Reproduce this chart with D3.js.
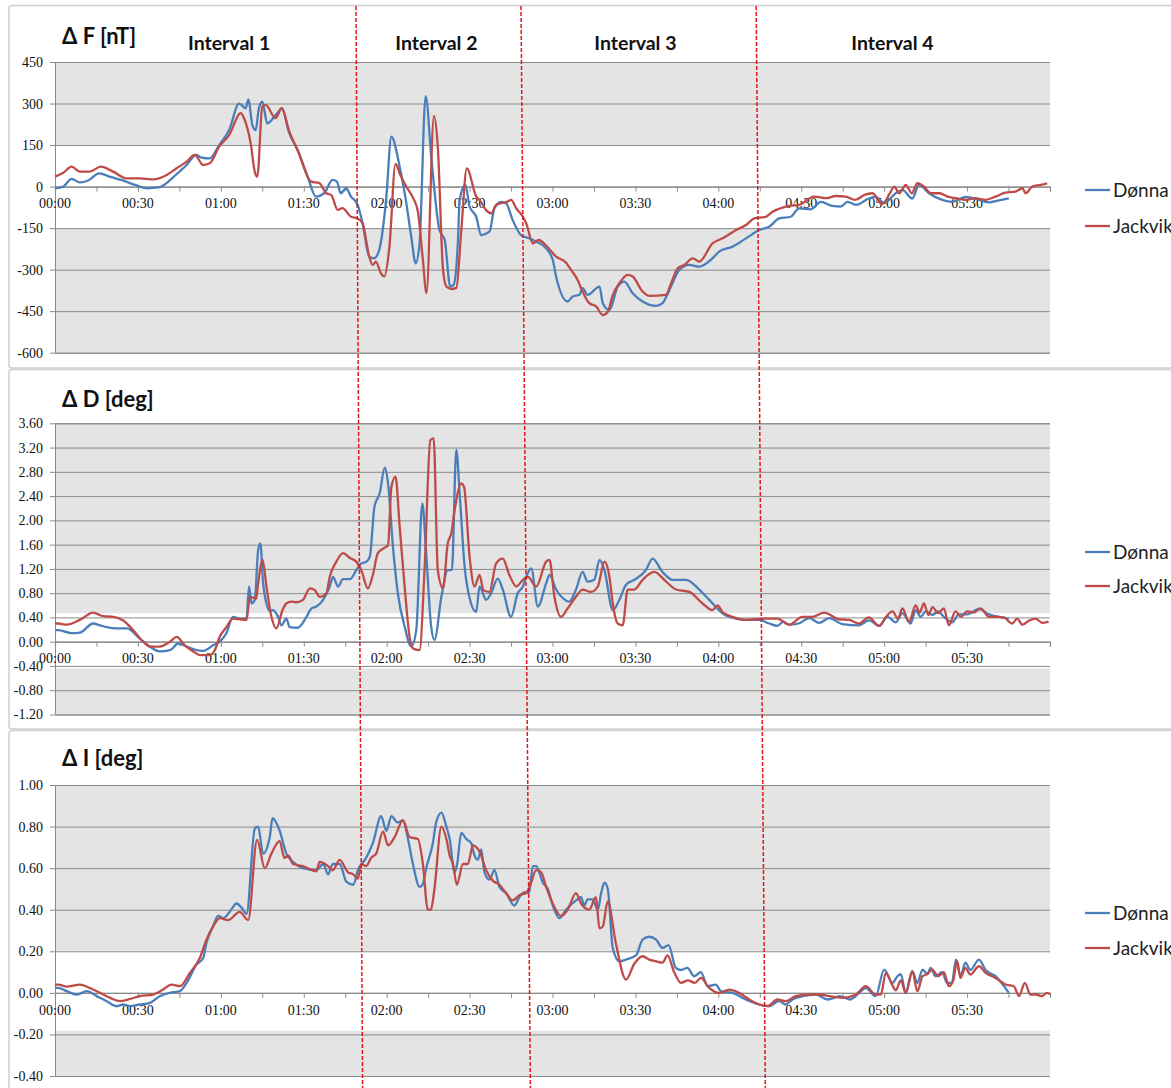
<!DOCTYPE html>
<html>
<head>
<meta charset="utf-8">
<script src="https://cdn.jsdelivr.net/npm/d3@7"></script>
<style>
  html, body { margin: 0; padding: 0; background: #fff; }
  svg { display: block; }
</style>
</head>
<body>
<svg id="chart" width="1171" height="1088"></svg>
<script>
// Magnetic field deviations at two stations, minutes after 00:00 UT
const timeLabels = ["00:00","00:30","01:00","01:30","02:00","02:30","03:00","03:30","04:00","04:30","05:00","05:30"];
const seriesNames = ["Dønna", "Jackvik"];
const intervalNames = ["Interval 1", "Interval 2", "Interval 3", "Interval 4"];
const intervalLabelTimes = [63, 138, 210, 303];
// interval boundaries (minutes) at the top and bottom of the figure
const boundaryTop = [108.9, 168.6, 253.7];
const boundaryBottom = [111.3, 172.0, 257.0];

const fTicks = [-600, -450, -300, -150, 0, 150, 300, 450];
const dTicks = [-1.2, -0.8, -0.4, 0, 0.4, 0.8, 1.2, 1.6, 2.0, 2.4, 2.8, 3.2, 3.6];
const iTicks = [-0.4, -0.2, 0, 0.2, 0.4, 0.6, 0.8, 1.0];

// ΔF [nT]
const fDonna = [[0,-6],[3,0],[6,28],[9,15],[12,22],[16,48],[20,35],[24,24],[29,6],[33,-6],[38,-2],[40,10],[43,36],[47.6,78],[51,114],[53,105],[56,102],[59.4,150],[63,204],[66.6,300],[69,283],[70,315],[71.4,222],[72.6,204],[73.8,284],[75,307],[76.8,228],[79.8,258],[82.2,282],[84.6,198],[87.8,132],[91.4,36],[94.4,-36],[97.4,-24],[100.4,24],[102,18],[103.4,-24],[105.3,-6],[107.1,-36],[109.5,-66],[111.3,-133],[113.7,-253],[115.5,-259],[117.3,-229],[119.8,-48],[121.7,180],[124.7,72],[126.8,-40],[128.9,-181],[130.5,-277],[131.9,-205],[134.1,327],[136.2,100],[139.1,-157],[141,-193],[143,-361],[144.2,-355],[145.8,-193],[146.4,-48],[148.5,6],[150,-72],[152.4,-109],[154.2,-175],[157.2,-163],[159,-78],[161.4,-55],[163.2,-60],[165.6,-121],[168.6,-175],[171.7,-187],[174.1,-199],[177.1,-217],[180.1,-265],[181.3,-325],[185.5,-415],[187.3,-397],[189.7,-391],[190.9,-367],[192.7,-391],[197,-361],[198.2,-421],[200.6,-446],[203.6,-361],[206,-343],[209,-385],[212.6,-415],[217.5,-431],[219.8,-421],[222.3,-373],[225.9,-301],[229.5,-283],[233.1,-289],[237.9,-259],[240.3,-235],[245.1,-217],[250,-187],[254.8,-157],[258.4,-145],[262,-115],[266.2,-109],[269.2,-79],[273.5,-82],[277.1,-55],[281.3,-70],[284.3,-72],[286.7,-55],[289.8,-66],[294.5,-43],[297,-37],[300,-60],[304.2,-24],[306.6,-12],[310.2,-43],[312.6,6],[316.2,-24],[321,-48],[324.6,-55],[329.4,-37],[334.3,-48],[337.9,-57],[341.5,-50],[345.1,-43]];
const fJackvik = [[0,36],[3,50],[6,72],[9,54],[12.5,54],[16.6,72],[21,54],[25.9,30],[30.7,30],[35.5,26],[40.4,42],[44,66],[47.6,90],[50.6,114],[53.6,78],[56,84],[59.4,144],[63,186],[67.2,265],[68.4,247],[70.8,156],[72.4,48],[73.2,36],[75,289],[76.2,295],[79.8,247],[82,283],[84.6,204],[88,126],[92.7,18],[95.7,12],[98.1,-24],[99.9,-30],[102.3,-84],[104,-78],[107.1,-109],[109.5,-115],[111.3,-133],[113.7,-253],[114.9,-283],[116.1,-271],[117.9,-313],[119.1,-325],[121,-217],[123.2,82],[125,40],[127.1,0],[129.5,-40],[131.3,-90],[133.1,-265],[134.4,-385],[137.1,255],[138.5,144],[140.4,-301],[141.6,-361],[143.4,-370],[145.2,-366],[147,-157],[149,66],[152.4,-36],[153.6,-48],[156,-85],[157.8,-97],[159.6,-66],[161.4,-60],[163.5,-55],[165,-48],[167,-80],[169.3,-109],[170.5,-133],[172.9,-205],[175,-193],[177.7,-213],[181.3,-253],[184.9,-275],[186.7,-301],[189.1,-337],[190.9,-380],[193.3,-421],[195.8,-433],[198.2,-464],[200,-452],[201.8,-392],[204.2,-349],[207.2,-319],[209,-325],[212.6,-379],[215,-395],[221.1,-391],[222.9,-349],[225.3,-295],[227.7,-283],[230.7,-259],[233.1,-271],[237.9,-205],[241.5,-187],[246.4,-157],[250,-139],[253,-115],[257.2,-109],[259.6,-91],[264.4,-72],[269.2,-66],[274.7,-36],[279,-42],[282.5,-34],[286.1,-36],[289.5,-48],[292.9,-30],[295.7,-24],[299.3,-63],[302.4,-18],[303.6,0],[305.5,-24],[307.8,6],[310,-24],[312,12],[314,3],[317,-24],[320,-24],[323.3,-37],[326,-42],[329.4,-48],[333,-42],[336.7,-48],[340.3,-36],[343.9,-22],[347.5,-18],[350,-6],[351.2,-24],[353.6,0],[356.6,6],[359,12]];

// ΔD [deg]
const dDonna = [[0,0.19],[1.2,0.19],[6,0.14],[9,0.15],[13.8,0.30],[16.3,0.27],[18.7,0.24],[22.3,0.22],[26,0.22],[30.7,0.05],[34.3,-0.08],[37.9,-0.16],[41.6,-0.14],[44.6,-0.03],[47.6,-0.08],[51.2,-0.14],[53.6,-0.15],[57.2,-0.06],[59.6,0.0],[62,0.14],[64.4,0.41],[66.8,0.38],[69.3,0.38],[70.2,0.91],[71.1,0.63],[72.3,0.69],[73.5,1.51],[74.3,1.62],[75.3,0.96],[76.5,0.63],[77.7,0.51],[78.9,0.52],[80.7,0.41],[81.9,0.27],[83.7,0.38],[84.9,0.24],[87.8,0.23],[91,0.41],[92.8,0.55],[94.6,0.58],[97,0.69],[99.4,0.91],[100.6,1.07],[102.4,0.91],[104.2,1.03],[106.7,1.03],[109,1.18],[110.8,1.29],[112.7,1.32],[113.9,1.40],[115.6,2.23],[117.5,2.45],[119.3,2.87],[120.5,2.61],[122.3,1.55],[124.1,0.78],[126.5,0.25],[128.9,-0.08],[130.7,0.19],[132.9,2.28],[134.3,1.46],[136.1,0.25],[137.3,0.03],[139.8,0.74],[142.1,1.18],[143.6,1.18],[145.2,3.16],[146.4,2.45],[148.2,1.24],[150,0.72],[152.4,0.49],[153.6,0.91],[156,0.69],[157.8,0.80],[160.2,1.04],[162,0.86],[165,0.41],[167.4,0.80],[169.3,0.91],[170.5,1.07],[172.3,1.21],[174.7,0.58],[177.7,0.96],[178.9,1.10],[181.3,0.86],[183.7,0.72],[186.1,0.66],[188.5,0.86],[190.9,1.15],[192.7,0.99],[195.1,1.02],[197,1.35],[198.8,1.18],[201.8,0.52],[204.2,0.69],[206.6,0.94],[209.6,1.02],[213.8,1.18],[216.2,1.37],[219.8,1.15],[223.4,1.02],[228.3,1.02],[233.1,0.86],[236.7,0.69],[241.5,0.47],[246.4,0.38],[250,0.36],[254.8,0.36],[258.4,0.30],[261.4,0.26],[263.5,0.33],[265.6,0.28],[269,0.30],[272.9,0.39],[276.5,0.31],[280.1,0.39],[284.9,0.29],[290.9,0.27],[294.5,0.35],[298.2,0.26],[301.2,0.41],[304.2,0.32],[306.6,0.47],[309.6,0.30],[311.4,0.52],[313.2,0.41],[315,0.50],[317.5,0.44],[319.5,0.50],[321.6,0.41],[324.6,0.32],[327,0.45],[330,0.45],[334.3,0.54],[337.9,0.45],[341.5,0.41],[345.1,0.38]];
const dJackvik = [[0,0.30],[1.2,0.30],[4.2,0.28],[9,0.36],[13.8,0.48],[17.5,0.42],[21.1,0.41],[24.7,0.35],[28.3,0.19],[31.9,0.0],[34.3,-0.08],[37.9,-0.08],[41.6,0.0],[44,0.08],[47,-0.06],[50,-0.16],[52.4,-0.22],[56,-0.22],[57.8,-0.14],[59.6,0.08],[62,0.24],[64.4,0.38],[69.3,0.36],[70.5,0.74],[72.8,0.71],[73.5,0.96],[75.1,1.35],[76.5,0.91],[78.3,0.41],[80.1,0.22],[82.3,0.52],[83.7,0.63],[85.5,0.66],[87.2,0.65],[89.7,0.69],[92.2,0.88],[94,0.85],[95.8,0.74],[98.2,0.80],[99.4,1.07],[101.8,1.32],[104.2,1.46],[106.7,1.38],[109,1.32],[110.8,1.18],[113.2,0.88],[115,1.10],[116.8,1.46],[119.3,1.55],[120.5,1.59],[121.7,2.55],[123.2,2.72],[124.7,1.90],[126.5,0.91],[128.3,0.08],[129.5,-0.11],[131.9,-0.14],[133.7,1.18],[135.8,3.32],[137,3.35],[138.5,1.18],[140.4,0.88],[142.1,1.62],[143.4,1.79],[144.6,2.17],[147,2.61],[148,2.55],[150,1.40],[151.8,0.91],[153.6,1.10],[155,0.85],[157.2,0.82],[159.6,1.29],[162,1.37],[164.4,1.10],[166.9,0.91],[169.3,1.02],[171.1,1.07],[174.1,0.91],[177.7,1.32],[178.9,1.35],[180.7,0.74],[183.1,0.41],[185.5,0.55],[188.5,0.74],[190.9,0.86],[193.9,0.82],[196.4,0.91],[198.8,1.32],[200.6,1.07],[201.8,0.63],[203.6,0.30],[205.4,0.27],[207.2,0.86],[209.6,0.86],[212.6,1.02],[216.8,1.15],[221.1,0.99],[224.7,0.86],[229.5,0.82],[234.3,0.63],[237.9,0.52],[239.7,0.60],[241.5,0.49],[245.1,0.41],[250,0.36],[256,0.38],[261.4,0.38],[265.6,0.28],[270.4,0.41],[274,0.41],[278.3,0.48],[283.7,0.37],[287.3,0.36],[290.9,0.30],[294.5,0.40],[298.2,0.26],[300.5,0.40],[303,0.50],[305,0.38],[306.6,0.55],[309,0.33],[311.4,0.60],[312.8,0.48],[314.4,0.63],[316,0.44],[317.5,0.57],[319.5,0.47],[321.6,0.55],[323.4,0.27],[325.8,0.50],[327.8,0.41],[330,0.50],[332.5,0.48],[334.9,0.55],[337.9,0.41],[341,0.41],[343.3,0.40],[346.3,0.30],[348.1,0.38],[350,0.28],[352.5,0.35],[354.8,0.38],[357.2,0.31],[359.5,0.33]];

// ΔI [deg]
const iDonna = [[0,0.024],[1.2,0.024],[4.2,0.008],[7.9,-0.008],[11.5,0.008],[15.1,-0.016],[18.7,-0.04],[22.3,-0.064],[24.7,-0.056],[27.1,-0.064],[30.7,-0.056],[34.3,-0.048],[37.9,-0.016],[41.6,0.0],[45.2,0.008],[47.6,0.048],[51.2,0.136],[53.6,0.168],[54.8,0.24],[57.2,0.32],[59,0.37],[61,0.36],[63.2,0.39],[65.7,0.43],[67.5,0.41],[69.3,0.38],[72.3,0.79],[73.5,0.80],[75.3,0.67],[77.7,0.75],[78.7,0.84],[81.3,0.78],[83.7,0.67],[86.1,0.63],[89.7,0.60],[94.6,0.59],[97,0.62],[98.8,0.57],[100.5,0.62],[103,0.62],[105.4,0.535],[107.9,0.52],[109.6,0.59],[112.6,0.65],[115,0.72],[118,0.85],[119.9,0.78],[121.7,0.85],[124,0.82],[125.9,0.83],[127.7,0.74],[129.5,0.62],[131.9,0.51],[133,0.52],[134.3,0.60],[136.7,0.72],[137.9,0.82],[139.8,0.867],[141.6,0.80],[142.8,0.74],[144.6,0.58],[145.5,0.62],[147,0.77],[148.8,0.74],[150.6,0.72],[151.8,0.66],[153,0.64],[154.2,0.69],[155.4,0.58],[157.2,0.545],[159,0.59],[160.8,0.51],[163.2,0.48],[166.2,0.42],[168,0.46],[169.9,0.485],[171.5,0.48],[172.9,0.61],[174.1,0.61],[176.5,0.53],[178.3,0.50],[180.1,0.42],[182.5,0.36],[184.9,0.40],[188.5,0.445],[190.3,0.46],[191.5,0.42],[192.7,0.45],[194.5,0.45],[196.4,0.40],[197.6,0.48],[198.8,0.53],[200,0.50],[201.8,0.216],[204.2,0.152],[206.6,0.16],[210.2,0.18],[212.6,0.256],[215,0.27],[217.5,0.256],[219.8,0.216],[222,0.23],[224.6,0.12],[226.4,0.11],[228.8,0.12],[231.3,0.08],[233.7,0.10],[236.1,0.032],[239.1,0.04],[240.9,0.008],[245.1,0.0],[250,-0.032],[254.8,-0.056],[258.4,-0.064],[262,-0.04],[264.4,-0.056],[266.8,-0.032],[270.4,-0.016],[275.3,-0.008],[279.5,-0.032],[284,-0.016],[287.5,-0.032],[291,0.0],[293.3,0.024],[296.9,-0.016],[300,0.112],[303,0.048],[304.8,0.08],[306,0.09],[307.8,0.0],[310.2,0.104],[312,0.048],[313.9,0.112],[315.6,0.09],[316.8,0.12],[318.6,0.08],[321,0.10],[322.7,0.048],[324.5,0.048],[326,0.16],[327.6,0.08],[329.4,0.145],[331.2,0.11],[334.3,0.16],[336.7,0.11],[340.3,0.08],[345.1,0.0]];
const iJackvik = [[0,0.04],[1.2,0.04],[4.2,0.03],[9,0.04],[12.5,0.024],[16.3,0.0],[20,-0.024],[23.5,-0.04],[27,-0.03],[30.7,-0.016],[35.5,-0.008],[39.1,0.016],[42.1,0.04],[45.2,0.032],[48.8,0.096],[52.4,0.168],[54.8,0.256],[57.2,0.32],[59.6,0.36],[62.6,0.35],[66.8,0.39],[69.9,0.35],[73.1,0.736],[75.9,0.60],[78.3,0.67],[81.3,0.73],[83,0.65],[84.5,0.66],[86.1,0.62],[89.7,0.61],[94.6,0.585],[95.7,0.63],[98.8,0.61],[100.5,0.59],[103,0.64],[106,0.58],[107.9,0.57],[109.6,0.55],[110.8,0.62],[112.6,0.61],[114.4,0.65],[116.2,0.67],[118.7,0.776],[120.5,0.71],[122.9,0.75],[125.9,0.83],[128.3,0.75],[131.3,0.74],[133.1,0.62],[134.9,0.40],[136,0.40],[137.2,0.49],[139.8,0.80],[141.6,0.74],[142.8,0.66],[144,0.62],[145.4,0.52],[147.6,0.62],[149.4,0.62],[151.2,0.71],[153.6,0.68],[156,0.59],[158.4,0.54],[160.8,0.52],[163.2,0.48],[165.6,0.445],[168,0.47],[170.5,0.48],[172,0.52],[174.1,0.59],[175.9,0.58],[177.7,0.51],[180.1,0.43],[183.1,0.37],[185.5,0.40],[188.5,0.48],[190.3,0.43],[193.3,0.40],[195.7,0.46],[197,0.31],[198.2,0.32],[200,0.44],[202.9,0.24],[206.6,0.064],[209.6,0.14],[212.6,0.176],[215,0.16],[217.5,0.152],[219.8,0.145],[221.6,0.18],[224,0.10],[226.5,0.048],[229,0.06],[231.5,0.048],[233.7,0.072],[236.7,0.024],[240.3,0.0],[243.9,0.016],[247.5,0.0],[251.2,-0.032],[254.8,-0.056],[257.8,-0.064],[261.4,-0.032],[264.4,-0.04],[268,-0.016],[272.9,-0.008],[276.5,-0.008],[280.1,-0.016],[284.9,-0.024],[289.8,-0.008],[293.3,0.032],[297,-0.008],[298.8,-0.008],[300.6,0.096],[303,0.036],[304.2,0.012],[306,0.06],[307.8,0.0],[310.2,0.104],[312,0.008],[313.9,0.08],[315.6,0.09],[317.4,0.112],[319.5,0.08],[321.6,0.10],[323.4,0.032],[325,0.06],[326.4,0.152],[327.6,0.072],[329.4,0.12],[331.2,0.088],[334.3,0.128],[336.7,0.096],[340.3,0.072],[343.9,0.04],[346.9,0.032],[348.8,-0.016],[350.9,0.048],[352.9,-0.008],[355,-0.008],[357,-0.016],[359,0.0],[360,-0.008]];

// ---- layout ----
const W = 1171, H = 1088;
const colors = { donna: "#4a7ebb", jack: "#be4b48" };
const plotFill = "#e4e4e4", gridColor = "#8a8a8a";
const sans = "Lato, 'Open Sans', sans-serif";
const serif = "'Liberation Serif', 'DejaVu Serif', serif";

// value labels use a plain hyphen for negatives
const hyphen = f => d => f(d).replace("\u2212", "-");

const panels = [
  { title: "Δ F [nT]", series: [fDonna, fJackvik], domain: [-600, 450], ticks: fTicks, fmt: hyphen(d3.format("d")),
    band: [-150, 150], frame: [5.5, 368], plot: [62, 352.7], titleY: 44, legendY: [190, 226] },
  { title: "Δ D [deg]", series: [dDonna, dJackvik], domain: [-1.2, 3.6], ticks: dTicks, fmt: hyphen(d3.format(".2f")),
    band: [-0.44, 0.47], frame: [369.5, 729], plot: [423.3, 714.5], titleY: 407, legendY: [552, 586] },
  { title: "Δ I [deg]", series: [iDonna, iJackvik], domain: [-0.4, 1.0], ticks: iTicks, fmt: hyphen(d3.format(".2f")),
    band: [-0.182, 0.2], frame: [730.5, 1096], plot: [785, 1076], titleY: 766, legendY: [913, 948] }
];

const x = d3.scaleLinear().domain([0, 360]).range([55, 1050]);
const svg = d3.select("#chart");
svg.append("rect").attr("width", W).attr("height", H).attr("fill", "#fff");

panels.forEach(p => {
  const y = d3.scaleLinear().domain(p.domain).range([p.plot[1], p.plot[0]]);
  const g = svg.append("g");

  // chart frame
  g.append("rect")
    .attr("x", 9).attr("y", p.frame[0])
    .attr("width", 1200).attr("height", p.frame[1] - p.frame[0])
    .attr("rx", 3)
    .attr("fill", "#fff").attr("stroke", "#cfcfcf").attr("stroke-width", 1.5);

  // plot area with a white band behind the time axis
  g.append("rect")
    .attr("x", x(0)).attr("y", y(p.domain[1]))
    .attr("width", x(360) - x(0)).attr("height", y(p.domain[0]) - y(p.domain[1]))
    .attr("fill", plotFill);
  g.append("rect")
    .attr("x", x(0)).attr("y", y(p.band[1]))
    .attr("width", x(360) - x(0)).attr("height", y(p.band[0]) - y(p.band[1]))
    .attr("fill", "#fff");

  // value axis: gridlines, ticks and labels
  const yAxis = d3.axisLeft(y).tickValues(p.ticks).tickFormat(p.fmt).tickSize(-(x(360) - x(0))).tickPadding(12);
  const ya = g.append("g").attr("transform", `translate(${x(0)},0)`).call(yAxis);
  ya.select(".domain").attr("stroke", gridColor).attr("stroke-width", 1);
  ya.selectAll(".tick line").attr("stroke", gridColor).attr("stroke-width", 1);
  ya.selectAll(".tick").append("line").attr("x1", -5).attr("x2", 0).attr("stroke", gridColor);
  ya.selectAll(".tick text")
    .attr("font-family", serif).attr("font-size", 14).attr("fill", "#111");

  // time axis at zero
  const xTicks = d3.range(0, 361, 15);
  const xAxis = d3.axisBottom(x).tickValues(xTicks).tickSize(5).tickFormat(() => "");
  const xa = g.append("g").attr("transform", `translate(0,${y(0)})`).call(xAxis);
  xa.select(".domain").attr("stroke", gridColor).attr("stroke-width", 1.2);
  xa.selectAll(".tick line").attr("stroke", gridColor);
  g.selectAll(".tlabel").data(timeLabels).enter().append("text")
    .attr("x", (d, i) => x(i * 30)).attr("y", y(0) + 21.7)
    .attr("text-anchor", "middle")
    .attr("font-family", serif).attr("font-size", 14).attr("fill", "#111")
    .text(d => d);

  // data lines
  const line = d3.line().x(d => x(d[0])).y(d => y(d[1])).curve(d3.curveMonotoneX);
  [colors.donna, colors.jack].forEach((c, k) => {
    g.append("path").datum(p.series[k])
      .attr("d", line).attr("fill", "none")
      .attr("stroke", c).attr("stroke-width", 2.3).attr("stroke-linejoin", "round");
  });

  // title
  g.append("text").attr("x", 62).attr("y", p.titleY)
    .attr("font-family", sans).attr("font-weight", 700).attr("font-size", 22).attr("fill", "#111")
    .text(p.title);

  // legend
  seriesNames.forEach((name, k) => {
    const ly = p.legendY[k];
    g.append("line").attr("x1", 1085).attr("x2", 1110).attr("y1", ly).attr("y2", ly)
      .attr("stroke", k === 0 ? colors.donna : colors.jack).attr("stroke-width", 2.3);
    g.append("text").attr("x", 1113).attr("y", ly + 7)
      .attr("font-family", sans).attr("font-size", 19).attr("fill", "#222").text(name);
  });
});

// interval labels
svg.selectAll(".ilabel").data(intervalNames).enter().append("text")
  .attr("x", (d, i) => x(intervalLabelTimes[i])).attr("y", 50)
  .attr("text-anchor", "middle")
  .attr("font-family", sans).attr("font-weight", 700).attr("font-size", 19.5).attr("fill", "#111")
  .text(d => d);

// interval boundaries, dashed red across all panels
svg.selectAll(".bound").data(boundaryTop).enter().append("line")
  .attr("x1", d => x(d)).attr("y1", 6)
  .attr("x2", (d, i) => x(boundaryBottom[i])).attr("y2", H)
  .attr("stroke", "#e3161b").attr("stroke-width", 1.5).attr("stroke-dasharray", "4,2");
</script>
</body>
</html>
